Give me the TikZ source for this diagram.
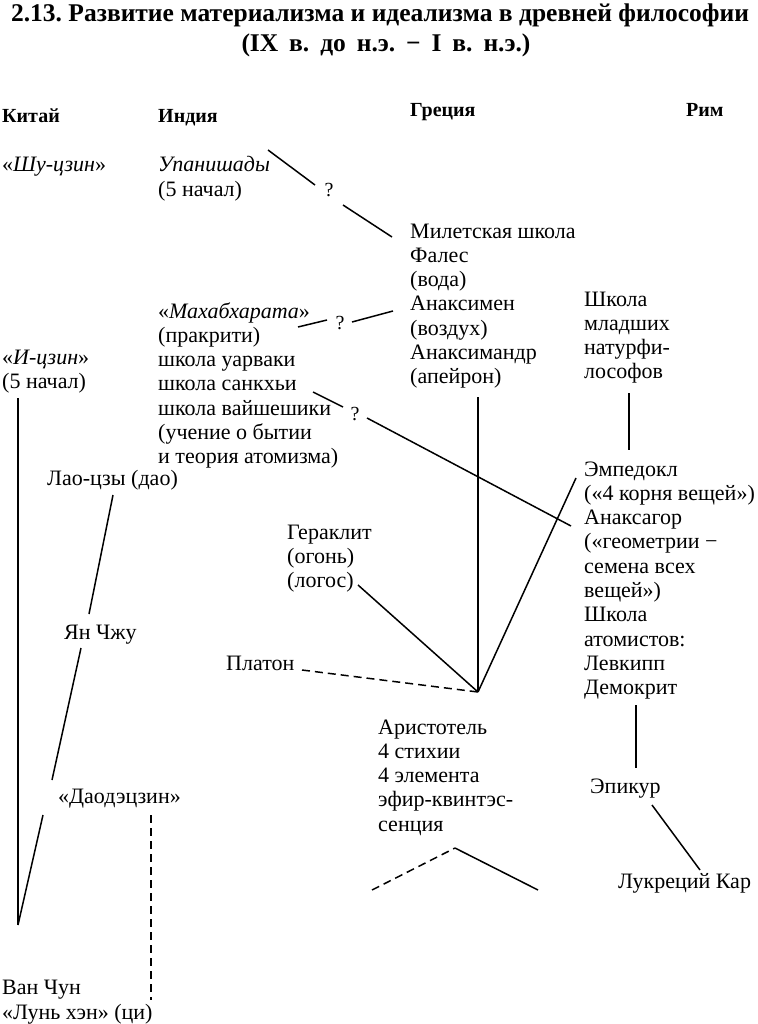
\documentclass[tikz,border=0pt]{standalone}
\usepackage{fontspec}
\setmainfont{Liberation Serif}
\begin{document}
\frenchspacing
\begin{tikzpicture}[x=1pt,y=-1pt,
  txt/.style={anchor=base west, inner sep=0pt, align=left, font=\fontsize{22}{24.3}\selectfont},
  hdr/.style={anchor=base west, inner sep=0pt, font=\fontsize{20}{24}\selectfont\bfseries},
  ttl/.style={anchor=base, inner sep=0pt, font=\fontsize{25.5}{28}\selectfont\bfseries},
  qm/.style={inner sep=0pt, font=\fontsize{20}{22}\selectfont},
  conn/.style={line width=1.5pt},
  dconn/.style={line width=1.5pt, dash pattern=on 8pt off 5pt}]
\useasboundingbox (0,0) rectangle (757,1024);
% title
\node[ttl] (t1) at (380,22) {\makebox[738pt][s]{2.13. Развитие материализма и идеализма в древней философии}};
\node[ttl] (t2) at (386,52) {\makebox[289pt][s]{(IX в. до н.э. − I в. н.э.)}};
% headers
\node[hdr] (hchina) at (2,123) {Китай};
\node[hdr] (hindia) at (158,123) {Индия};
\node[hdr] (hgreece) at (410,117) {Греция};
\node[hdr] (hrome) at (686,117) {Рим};
% China
\node[txt] (shu) at (2,172) {«\textit{Шу-цзин}»};
\node[txt] (icz) at (2,388.3) {«\textit{И-цзин}»\\(5 начал)};
\node[txt] (lao) at (47,485) {Лао-цзы (дао)};
\node[txt] (yan) at (64,639) {Ян Чжу};
\node[txt] (dao) at (58,803) {«Даодэцзин»};
\node[txt] (van) at (2,1019) {Ван Чун\\«Лунь хэн» (ци)};
% India
\node[txt] (upa) at (158,196.3) {\textit{Упанишады}\\(5 начал)};
\node[txt] (maha) at (158,463.8) {«\textit{Махабхарата}»\\(пракрити)\\школа уарваки\\школа санкхьи\\школа вайшешики\\(учение о бытии\\и теория атомизма)};
% Greece
\node[txt] (milet) at (410,383.8) {Милетская школа\\Фалес\\(вода)\\Анаксимен\\(воздух)\\Анаксимандр\\(апейрон)};
\node[txt] (her) at (287,587.6) {Гераклит\\(огонь)\\(логос)};
\node[txt] (plat) at (226,670) {Платон};
\node[txt] (arist) at (378,831.2) {Аристотель\\4 стихии\\4 элемента\\эфир-квинтэс-\\сенция};
% Rome
\node[txt] (young) at (584,378.9) {Школа\\младших\\натурфи-\\лософов};
\node[txt] (emp) at (584,694.7) {Эмпедокл\\(«4 корня вещей»)\\Анаксагор\\(«геометрии −\\семена всех\\вещей»)\\Школа\\атомистов:\\Левкипп\\Демокрит};
\node[txt] (epi) at (590,793) {Эпикур};
\node[txt] (luk) at (618,888) {Лукреций Кар};
% question marks
\node[qm] (q1) at (329,190) {?};
\node[qm] (q2) at (340,323) {?};
\node[qm] (q3) at (355,414) {?};
% connector end points
\coordinate (u1) at (268,150);
\coordinate (u2) at (315,185);
\coordinate (m1) at (343,205);
\coordinate (m2) at (392,237);
\coordinate (h1) at (298,327);
\coordinate (h2) at (327,320);
\coordinate (h3) at (352,322);
\coordinate (h4) at (393,311);
\coordinate (s1) at (313,392);
\coordinate (s2) at (343,407);
\coordinate (s3) at (367,418);
\coordinate (s4) at (571,526);
\coordinate (mtop) at (478,397);
\coordinate (A) at (478,692);
\coordinate (etop) at (576,478);
\coordinate (hl) at (358,585);
\coordinate (pl) at (302,670);
\coordinate (y1) at (629,393);
\coordinate (y2) at (629,450);
\coordinate (d1) at (636,705);
\coordinate (d2) at (636,768);
\coordinate (e1) at (652,805);
\coordinate (e2) at (700,870);
\coordinate (a1) at (372,890);
\coordinate (apex) at (455,848);
\coordinate (a2) at (538,890);
\coordinate (itop) at (18,398);
\coordinate (B) at (18,925);
\coordinate (dl) at (43,815);
\coordinate (l1) at (113,495);
\coordinate (l2) at (89,614);
\coordinate (j1) at (81,648);
\coordinate (j2) at (52,780);
\coordinate (v1) at (151,815);
\coordinate (v2) at (151,1000);
% connectors
\draw[conn] (u1) -- (u2);
\draw[conn] (m1) -- (m2);
\draw[conn] (h1) -- (h2);
\draw[conn] (h3) -- (h4);
\draw[conn] (s1) -- (s2);
\draw[conn] (s3) -- (s4);
\draw[conn] (mtop) -- (A);
\draw[conn] (etop) -- (A);
\draw[conn] (hl) -- (A);
\draw[dconn] (pl) -- (A);
\draw[conn] (y1) -- (y2);
\draw[conn] (d1) -- (d2);
\draw[conn] (e1) -- (e2);
\draw[dconn] (a1) -- (apex);
\draw[conn] (apex) -- (a2);
\draw[conn] (itop) -- (B);
\draw[conn] (dl) -- (B);
\draw[conn] (l1) -- (l2);
\draw[conn] (j1) -- (j2);
\draw[dconn] (v1) -- (v2);
\end{tikzpicture}
\end{document}
